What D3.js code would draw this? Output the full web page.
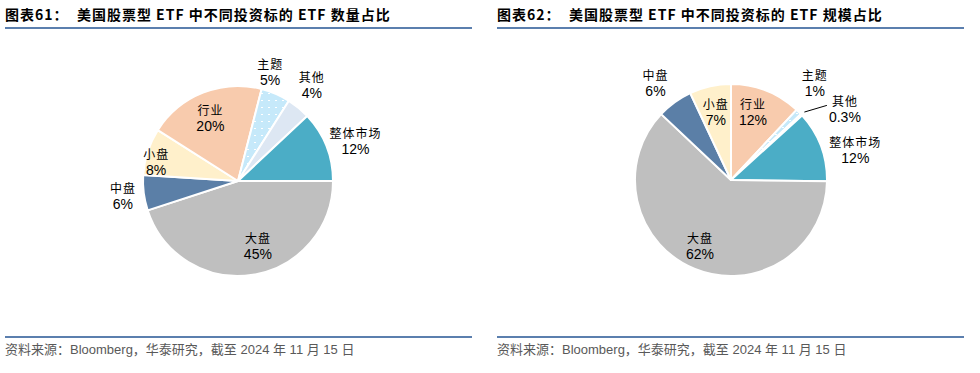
<!DOCTYPE html>
<html>
<head>
<meta charset="utf-8">
<script src="https://cdn.jsdelivr.net/npm/d3@7"></script>
<style>
  body { margin: 0; background: #fff; }
  svg { display: block; }
  text { font-family: "Liberation Sans", Arial, "Noto Sans CJK SC", sans-serif; }
</style>
</head>
<body>
<svg width="980" height="373"></svg>
<script>
// data
var countNames = ["大盘", "中盘", "小盘", "行业", "主题", "其他", "整体市场"];
var countValues = [45, 6, 8, 20, 5, 4, 12];
var countLabels = ["45%", "6%", "8%", "20%", "5%", "4%", "12%"];

var sizeNames = ["行业", "主题", "其他", "整体市场", "大盘", "中盘", "小盘"];
var sizeValues = [12, 1, 0.3, 12, 62, 6, 7];
var sizeLabels = ["12%", "1%", "0.3%", "12%", "62%", "6%", "7%"];

var titles = ["图表61：  美国股票型 ETF 中不同投资标的 ETF 数量占比",
              "图表62：  美国股票型 ETF 中不同投资标的 ETF 规模占比"];
var source = "资料来源：Bloomberg，华泰研究，截至 2024 年 11 月 15 日";

// colours per category
var colors = {
  "大盘": "#bfbfbf", "中盘": "#5b7fa7", "小盘": "#fff0cb", "行业": "#f8cbad",
  "主题": "url(#dots)", "其他": "#dde7f3", "整体市场": "#4badc6"
};

// label placement: [radius, angle nudge in degrees]
var countLabelPos = {
  "大盘": [68, -8], "中盘": [116, 0], "小盘": [84, -5], "行业": [69, -2],
  "主题": [114, -7], "其他": [121, -2], "整体市场": [124, 3]
};
var sizeLabelPos = {
  "行业": [71, -3.5], "主题": [128, -4], "其他": [134, 11], "整体市场": [128, 7],
  "大盘": [73, 3], "中盘": [123, -2], "小盘": [70, 0]
};

var svg = d3.select("svg");

var defs = svg.append("defs");
var pat = defs.append("pattern")
    .attr("id", "dots")
    .attr("patternUnits", "userSpaceOnUse")
    .attr("width", 7).attr("height", 7);
pat.append("rect").attr("width", 7).attr("height", 7).attr("fill", "#c6e9fa");
pat.append("rect").attr("x", 2).attr("y", 3).attr("width", 2).attr("height", 1).attr("fill", "#fff");

function panel(x0, x1, title, names, values, labels, startDeg, cx, cy, r, labelPos, leaders) {
  var g = svg.append("g");

  g.append("text")
      .attr("x", x0).attr("y", 20)
      .style("font-family", "'Noto Sans CJK SC', sans-serif")
      .style("font-weight", "bold")
      .style("font-size", "14px")
      .attr("letter-spacing", "1px")
      .attr("fill", "#000")
      .attr("xml:space", "preserve")
      .text(title);

  g.append("line")
      .attr("x1", x0).attr("x2", x1).attr("y1", 28).attr("y2", 28)
      .attr("stroke", "#5b7fae").attr("stroke-width", 2);

  g.append("line")
      .attr("x1", x0).attr("x2", x1).attr("y1", 337).attr("y2", 337)
      .attr("stroke", "#5b7fae").attr("stroke-width", 2);

  g.append("text")
      .attr("x", x0).attr("y", 354)
      .style("font-size", "13px")
      .attr("fill", "#595959")
      .text(source);

  var data = names.map(function (n, i) { return { name: n, value: values[i], label: labels[i] }; });
  var start = startDeg * Math.PI / 180;
  var pie = d3.pie().sort(null).value(function (d) { return d.value; })
      .startAngle(start).endAngle(start + 2 * Math.PI);
  var arc = d3.arc().innerRadius(0).outerRadius(r);
  var arcs = pie(data);

  var pg = g.append("g").attr("transform", "translate(" + cx + "," + cy + ")");

  pg.selectAll("path")
      .data(arcs)
      .enter().append("path")
      .attr("d", arc)
      .attr("fill", function (d) { return colors[d.data.name]; })
      .attr("stroke", "#fff")
      .attr("stroke-width", 2)
      .attr("stroke-linejoin", "round");

  function labelXY(d) {
    var p = labelPos[d.data.name];
    var a = (d.startAngle + d.endAngle) / 2 + p[1] * Math.PI / 180;
    return [p[0] * Math.sin(a), -p[0] * Math.cos(a)];
  }

  // leader lines for crowded thin slices
  arcs.forEach(function (d) {
    if (leaders.indexOf(d.data.name) < 0) return;
    var a = (d.startAngle + d.endAngle) / 2;
    var xy = labelXY(d);
    pg.append("line")
        .attr("x1", (r + 4) * Math.sin(a)).attr("y1", -(r + 4) * Math.cos(a))
        .attr("x2", xy[0] - 18).attr("y2", xy[1] - 4)
        .attr("stroke", "#000").attr("stroke-width", 1);
  });

  var lab = pg.selectAll(".lab")
      .data(arcs)
      .enter().append("g")
      .attr("class", "lab")
      .attr("transform", function (d) { return "translate(" + labelXY(d) + ")"; });

  lab.append("text")
      .attr("text-anchor", "middle")
      .attr("y", -3)
      .style("font-family", "'Noto Sans CJK SC', sans-serif")
      .style("font-size", "12px")
      .attr("letter-spacing", "1px")
      .attr("fill", "#000")
      .text(function (d) { return d.data.name; });

  lab.append("text")
      .attr("text-anchor", "middle")
      .attr("y", 13)
      .style("font-size", "14px")
      .attr("fill", "#000")
      .text(function (d) { return d.data.label; });
}

panel(5, 472, titles[0], countNames, countValues, countLabels, 90, 238, 181, 95, countLabelPos, []);
panel(497, 964, titles[1], sizeNames, sizeValues, sizeLabels, 0, 731, 180, 96, sizeLabelPos, ["其他"]);
</script>
</body>
</html>
